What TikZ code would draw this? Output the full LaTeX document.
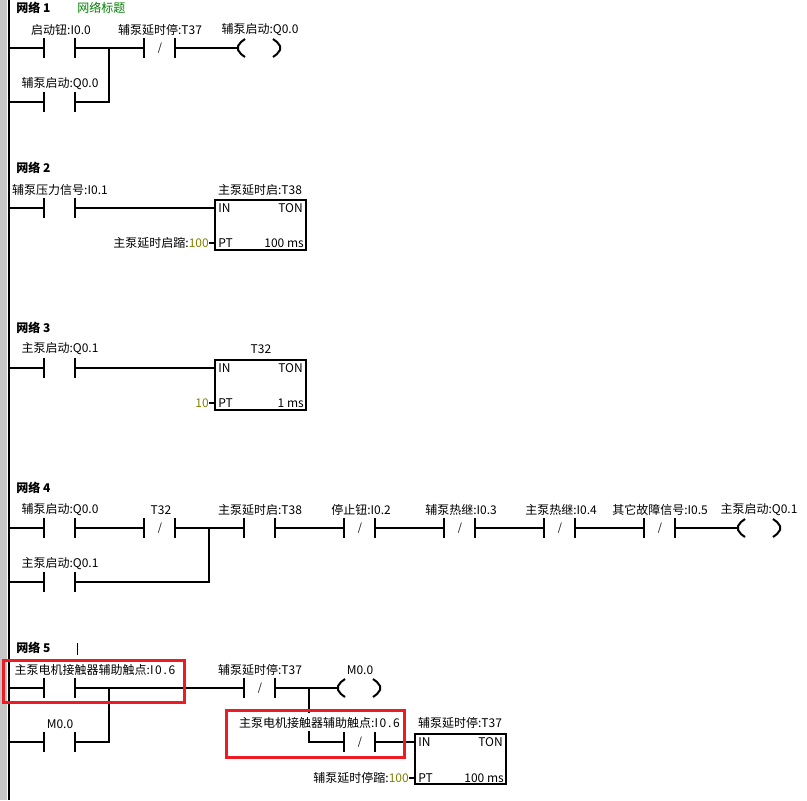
\documentclass[tikz,border=0pt]{standalone}
\usepackage{fontspec}
\setmainfont{Noto Sans CJK SC}
\newcommand{\addrwide}[1]{{\addfontfeature{LetterSpace=14}#1}}
\usetikzlibrary{positioning}
\definecolor{boxred}{RGB}{237,28,36}
\definecolor{titlegreen}{RGB}{0,128,0}
\definecolor{valolive}{RGB}{128,128,0}
\tikzset{
  wire/.style={line width=1.5pt},
  plate/.style={fill=black,inner sep=0pt,minimum width=1.5pt,minimum height=15pt},
  lbl/.style={inner sep=0pt,font=\fontsize{9}{9}\selectfont},
  slash/.style={inner sep=0pt,font=\fontsize{8}{8}\selectfont},
  nettitle/.style={inner sep=0pt,anchor=west,font=\fontsize{9}{9}\selectfont\bfseries},
  tmrbox/.style={draw,line width=1.5pt,inner sep=0pt,minimum width=68.25pt,minimum height=37.5pt},
  redbox/.style={draw=boxred,line width=2.25pt},
}
\begin{document}
\begin{tikzpicture}[x=0.75pt,y=0.75pt,yscale=-1,xscale=1]
\useasboundingbox (0,0) rectangle (807,800);
%Left rail
\fill [black!22] (0,0) rectangle (7,800);
\draw [wire] (9,0) -- (9,800);
%Rail points
\coordinate (r1a) at (9,48);
\coordinate (r1b) at (9,102);
\coordinate (r2a) at (9,208);
\coordinate (r3a) at (9,368);
\coordinate (r4a) at (9,528);
\coordinate (r4b) at (9,582);
\coordinate (r5a) at (9,688);
\coordinate (r5b) at (9,742);
% Network titles
\node [nettitle] (net1) at (16,8) {网络 1};
\node [lbl,anchor=west,text=titlegreen] (net1t) at (77,8) {网络标题};
\node [nettitle] (net2) at (16,168) {网络 2};
\node [nettitle] (net3) at (16,328) {网络 3};
\node [nettitle] (net4) at (16,488) {网络 4};
\node [nettitle] (net5) at (16,648) {网络 5};
\draw [line width=0.75pt] (77,643) -- (77,655);
%Network 1 contacts
\node [plate] (a1l) at (44,48) {};
\node [plate] (a1r) at (75,48) {};
\node [plate] (a2l) at (144,48) {};
\node [plate] (a2r) at (175,48) {};
\node [slash] (a2s) at (160,48) {/};
\node [plate] (a3l) at (44,102) {};
\node [plate] (a3r) at (75,102) {};
\coordinate (a1j) at (109,48);
\coordinate (a3j) at (109,102);
\coordinate (a4) at (238,48);
\draw [wire] (r1a) -- (a1l);
\draw [wire] (a1r) -- (a2l);
\draw [wire] (a2r) -- (a4);
\draw [wire] (r1b) -- (a3l);
\draw [wire] (a3r) -- (a3j) -- (a1j);
\draw [wire] (245,39) -- (241,42) -- (238,46) -- (238,50) -- (241,54) -- (245,57);
\draw [wire] (273,39) -- (277,42) -- (280,46) -- (280,50) -- (277,54) -- (273,57);
% Text Node
\node [lbl] (a1t) at (61,30) {启动钮:I0.0};
\node [lbl] (a2t) at (160,30) {辅泵延时停:T37};
\node [lbl] (a3t) at (60,84) {辅泵启动:Q0.0};
\node [lbl] (a4t) at (260,30) {辅泵启动:Q0.0};
%Network 2
\node [plate] (b1l) at (44,208) {};
\node [plate] (b1r) at (75,208) {};
\node [tmrbox] (b2) at (260.5,225) {};
\node [lbl,anchor=east] (b2p) at (209,243) {主泵延时启蹜:\textcolor{valolive}{100}};
\draw [wire] (r2a) -- (b1l);
\draw [wire] (b1r) -- (b1r -| b2.west);
\draw [wire] (b2p.east) -- (b2p.east -| b2.west);
% Text Node
\node [lbl] (b1t) at (60,190) {辅泵压力信号:I0.1};
\node [lbl] (b2t) at (260,190) {主泵延时启:T38};
\node [lbl,anchor=west] (b2i) at (218,208) {IN};
\node [lbl,anchor=east] (b2n) at (303,208) {TON};
\node [lbl,anchor=west] (b2q) at (218,243) {PT};
\node [lbl,anchor=east] (b2m) at (304,243) {100 ms};
%Network 3
\node [plate] (c1l) at (44,368) {};
\node [plate] (c1r) at (75,368) {};
\node [tmrbox] (c2) at (260.5,385) {};
\node [lbl,anchor=east,text=valolive] (c2p) at (209,403) {10};
\draw [wire] (r3a) -- (c1l);
\draw [wire] (c1r) -- (c1r -| c2.west);
\draw [wire] (c2p.east) -- (c2p.east -| c2.west);
% Text Node
\node [lbl] (c1t) at (60,349) {主泵启动:Q0.1};
\node [lbl] (c2t) at (261,349) {T32};
\node [lbl,anchor=west] (c2i) at (218,368) {IN};
\node [lbl,anchor=east] (c2n) at (303,368) {TON};
\node [lbl,anchor=west] (c2q) at (218,403) {PT};
\node [lbl,anchor=east] (c2m) at (304,403) {1 ms};
%Network 4
\node [plate] (d1l) at (44,528) {};
\node [plate] (d1r) at (75,528) {};
\node [plate] (d2l) at (144,528) {};
\node [plate] (d2r) at (175,528) {};
\node [slash] (d2s) at (160,528) {/};
\node [plate] (d3l) at (244,528) {};
\node [plate] (d3r) at (275,528) {};
\node [plate] (d4l) at (344,528) {};
\node [plate] (d4r) at (375,528) {};
\node [slash] (d4s) at (360,528) {/};
\node [plate] (d5l) at (444,528) {};
\node [plate] (d5r) at (475,528) {};
\node [slash] (d5s) at (460,528) {/};
\node [plate] (d6l) at (544,528) {};
\node [plate] (d6r) at (575,528) {};
\node [slash] (d6s) at (560,528) {/};
\node [plate] (d7l) at (644,528) {};
\node [plate] (d7r) at (675,528) {};
\node [slash] (d7s) at (660,528) {/};
\node [plate] (d8l) at (44,582) {};
\node [plate] (d8r) at (75,582) {};
\coordinate (d2j) at (209,528);
\coordinate (d8j) at (209,582);
\coordinate (d9) at (738,528);
\draw [wire] (r4a) -- (d1l);
\draw [wire] (d1r) -- (d2l);
\draw [wire] (d2r) -- (d3l);
\draw [wire] (d3r) -- (d4l);
\draw [wire] (d4r) -- (d5l);
\draw [wire] (d5r) -- (d6l);
\draw [wire] (d6r) -- (d7l);
\draw [wire] (d7r) -- (d9);
\draw [wire] (r4b) -- (d8l);
\draw [wire] (d8r) -- (d8j) -- (d2j);
\draw [wire] (745,519) -- (741,522) -- (738,526) -- (738,530) -- (741,534) -- (745,537);
\draw [wire] (773,519) -- (777,522) -- (780,526) -- (780,530) -- (777,534) -- (773,537);
% Text Node
\node [lbl] (d1t) at (60,510) {辅泵启动:Q0.0};
\node [lbl] (d2t) at (161,510) {T32};
\node [lbl] (d3t) at (260,510) {主泵延时启:T38};
\node [lbl] (d4t) at (361,510) {停止钮:I0.2};
\node [lbl] (d5t) at (461,510) {辅泵热继:I0.3};
\node [lbl] (d6t) at (561,510) {主泵热继:I0.4};
\node [lbl] (d7t) at (660,510) {其它故障信号:I0.5};
\node [lbl] (d9t) at (759,510) {主泵启动:Q0.1};
\node [lbl] (d8t) at (60,564) {主泵启动:Q0.1};
%Network 5
\node [plate] (e1l) at (44,688) {};
\node [plate] (e1r) at (75,688) {};
\node [plate] (e2l) at (244,688) {};
\node [plate] (e2r) at (275,688) {};
\node [slash] (e2s) at (260,688) {/};
\node [plate] (e3l) at (44,742) {};
\node [plate] (e3r) at (75,742) {};
\node [plate] (e4l) at (344,742) {};
\node [plate] (e4r) at (375,742) {};
\node [slash] (e4s) at (360,742) {/};
\node [tmrbox] (e5) at (460.5,759) {};
\node [lbl,anchor=east] (e5p) at (409,778) {辅泵延时停蹜:\textcolor{valolive}{100}};
\coordinate (e1j) at (109,688);
\coordinate (e3j) at (109,742);
\coordinate (e2j) at (309,688);
\coordinate (e2k) at (309,713);
\coordinate (e4k) at (309,731);
\coordinate (e4j) at (309,742);
\coordinate (e6) at (338,688);
\draw [wire] (r5a) -- (e1l);
\draw [wire] (e1r) -- (e2l);
\draw [wire] (e2r) -- (e6);
\draw [wire] (r5b) -- (e3l);
\draw [wire] (e3r) -- (e3j) -- (e1j);
\draw [wire] (e2j) -- (e2k);
\draw [wire] (e4k) -- (e4j) -- (e4l);
\draw [wire] (e4r) -- (e4r -| e5.west);
\draw [wire] (e5p.east) -- (e5p.east -| e5.west);
\draw [wire] (345,679) -- (341,682) -- (338,686) -- (338,690) -- (341,694) -- (345,697);
\draw [wire] (373,679) -- (377,682) -- (380,686) -- (380,690) -- (377,694) -- (373,697);
% Text Node
\node [lbl] (e1t) at (95,670) {主泵电机接触器辅助触点:\addrwide{I0.6}};
\node [lbl] (e2t) at (260,670) {辅泵延时停:T37};
\node [lbl] (e6t) at (360,670) {M0.0};
\node [lbl] (e3t) at (60,724) {M0.0};
\node [lbl] (e4t) at (319.5,723) {主泵电机接触器辅助触点:\addrwide{I0.6}};
\node [lbl] (e5t) at (460,723) {辅泵延时停:T37};
\node [lbl,anchor=west] (e5i) at (418,742) {IN};
\node [lbl,anchor=east] (e5n) at (503,742) {TON};
\node [lbl,anchor=west] (e5q) at (418,778) {PT};
\node [lbl,anchor=east] (e5m) at (504,778) {100 ms};
%Red marks
\draw [redbox] (3,660) rectangle (184,702);
\draw [redbox] (226,710.5) rectangle (404,757);
\end{tikzpicture}
\end{document}
